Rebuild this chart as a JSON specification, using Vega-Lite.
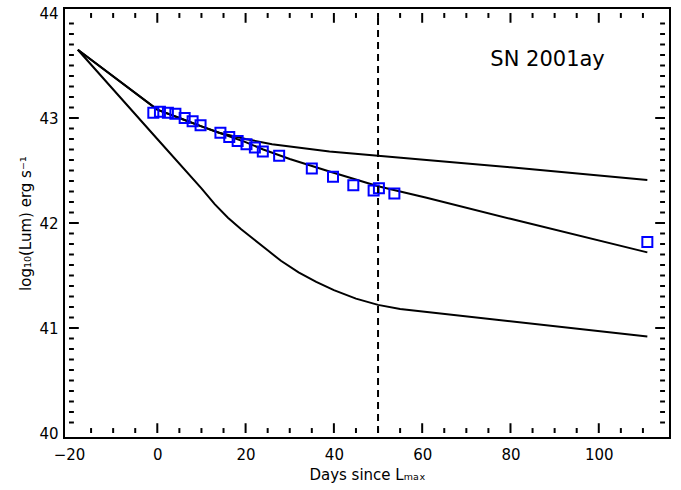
{
  "$schema": "https://vega.github.io/schema/vega-lite/v6.json",
  "width": 606,
  "height": 430,
  "autosize": "none",
  "padding": {"left": 64, "top": 8, "right": 11, "bottom": 52},
  "background": "white",
  "config": {
    "view": {"stroke": "black", "strokeWidth": 2},
    "font": "DejaVu Sans",
    "axis": {"domain": false, "grid": false, "ticks": false, "tickSize": 0, "labelColor": "black", "titleColor": "black", "labelFont": "DejaVu Sans", "titleFont": "DejaVu Sans", "labelFontSize": 15, "titleFontSize": 15, "titleFontWeight": "normal", "labelFlush": false}
  },
  "datasets": {
    "models": [
      {"series": "a", "day": -18, "lum": 43.65},
      {"series": "a", "day": 0, "lum": 43.08},
      {"series": "a", "day": 5, "lum": 43.0},
      {"series": "a", "day": 10, "lum": 42.92},
      {"series": "a", "day": 14, "lum": 42.86},
      {"series": "a", "day": 20, "lum": 42.80},
      {"series": "a", "day": 26, "lum": 42.75},
      {"series": "a", "day": 39, "lum": 42.68},
      {"series": "a", "day": 50, "lum": 42.64},
      {"series": "a", "day": 61, "lum": 42.60},
      {"series": "a", "day": 80, "lum": 42.53},
      {"series": "a", "day": 111, "lum": 42.41},
      {"series": "b", "day": -18, "lum": 43.65},
      {"series": "b", "day": 0, "lum": 43.08},
      {"series": "b", "day": 5, "lum": 43.0},
      {"series": "b", "day": 10, "lum": 42.92},
      {"series": "b", "day": 14, "lum": 42.86},
      {"series": "b", "day": 20, "lum": 42.77},
      {"series": "b", "day": 24, "lum": 42.70},
      {"series": "b", "day": 30, "lum": 42.61},
      {"series": "b", "day": 39, "lum": 42.49},
      {"series": "b", "day": 50, "lum": 42.35},
      {"series": "b", "day": 61, "lum": 42.24},
      {"series": "b", "day": 80, "lum": 42.04},
      {"series": "b", "day": 111, "lum": 41.72},
      {"series": "c", "day": -18, "lum": 43.65},
      {"series": "c", "day": 0, "lum": 42.80},
      {"series": "c", "day": 10, "lum": 42.33},
      {"series": "c", "day": 13, "lum": 42.18},
      {"series": "c", "day": 16, "lum": 42.05},
      {"series": "c", "day": 19, "lum": 41.94},
      {"series": "c", "day": 22, "lum": 41.84},
      {"series": "c", "day": 25, "lum": 41.74},
      {"series": "c", "day": 28, "lum": 41.64},
      {"series": "c", "day": 32, "lum": 41.53},
      {"series": "c", "day": 36, "lum": 41.44},
      {"series": "c", "day": 40, "lum": 41.36},
      {"series": "c", "day": 45, "lum": 41.28},
      {"series": "c", "day": 50, "lum": 41.22},
      {"series": "c", "day": 55, "lum": 41.18},
      {"series": "c", "day": 111, "lum": 40.92}
    ],
    "obs": [
      {"day": -0.9, "lum": 43.05},
      {"day": 0.6, "lum": 43.06},
      {"day": 2.4, "lum": 43.05},
      {"day": 4.1, "lum": 43.04},
      {"day": 6.2, "lum": 43.0},
      {"day": 8.0, "lum": 42.97},
      {"day": 9.8, "lum": 42.93},
      {"day": 14.3, "lum": 42.86},
      {"day": 16.3, "lum": 42.82},
      {"day": 18.2, "lum": 42.78},
      {"day": 20.2, "lum": 42.75},
      {"day": 22.1, "lum": 42.72},
      {"day": 23.9, "lum": 42.68},
      {"day": 27.6, "lum": 42.64},
      {"day": 35.0, "lum": 42.52},
      {"day": 39.8, "lum": 42.44},
      {"day": 44.4, "lum": 42.36},
      {"day": 49.0, "lum": 42.31},
      {"day": 50.2, "lum": 42.33},
      {"day": 53.7, "lum": 42.28},
      {"day": 111.0, "lum": 41.82}
    ],
    "marker": [{"day": 50}],
    "label": [{"day": 88.4, "lum": 43.55, "text": "SN 2001ay"}],
    "xmajor": [{"day": 0}, {"day": 20}, {"day": 40}, {"day": 60}, {"day": 80}, {"day": 100}],
    "xminor": [{"day": -15}, {"day": -10}, {"day": -5}, {"day": 5}, {"day": 10}, {"day": 15}, {"day": 25}, {"day": 30}, {"day": 35}, {"day": 45}, {"day": 50}, {"day": 55}, {"day": 65}, {"day": 70}, {"day": 75}, {"day": 85}, {"day": 90}, {"day": 95}, {"day": 105}, {"day": 110}],
    "ymajor": [{"lum": 41}, {"lum": 42}, {"lum": 43}],
    "yminor": [{"lum": 40.1}, {"lum": 40.2}, {"lum": 40.3}, {"lum": 40.4}, {"lum": 40.5}, {"lum": 40.6}, {"lum": 40.7}, {"lum": 40.8}, {"lum": 40.9}, {"lum": 41.1}, {"lum": 41.2}, {"lum": 41.3}, {"lum": 41.4}, {"lum": 41.5}, {"lum": 41.6}, {"lum": 41.7}, {"lum": 41.8}, {"lum": 41.9}, {"lum": 42.1}, {"lum": 42.2}, {"lum": 42.3}, {"lum": 42.4}, {"lum": 42.5}, {"lum": 42.6}, {"lum": 42.7}, {"lum": 42.8}, {"lum": 42.9}, {"lum": 43.1}, {"lum": 43.2}, {"lum": 43.3}, {"lum": 43.4}, {"lum": 43.5}, {"lum": 43.6}, {"lum": 43.7}, {"lum": 43.8}, {"lum": 43.9}]
  },
  "layer": [
    {
      "data": {"name": "models"},
      "mark": {"type": "line", "color": "black", "strokeWidth": 2},
      "encoding": {
        "x": {"field": "day", "type": "quantitative", "scale": {"domain": [-20, 115], "nice": false, "zero": false},
              "axis": {"orient": "bottom", "values": [-20, 0, 20, 40, 60, 80, 100], "format": "d", "labelPadding": 9, "title": "Days since Lₘₐₓ", "titlePadding": 5}},
        "y": {"field": "lum", "type": "quantitative", "scale": {"domain": [40, 44], "nice": false, "zero": false},
              "axis": {"orient": "left", "values": [40, 41, 42, 43, 44], "format": "d", "labelPadding": 6, "title": "log₁₀(Lum)    erg s⁻¹", "titlePadding": 5}},
        "detail": {"field": "series", "type": "nominal"}
      }
    },
    {
      "data": {"name": "obs"},
      "mark": {"type": "point", "shape": "square", "filled": false, "color": "#0000ff", "size": 100, "strokeWidth": 2, "opacity": 1},
      "encoding": {
        "x": {"field": "day", "type": "quantitative"},
        "y": {"field": "lum", "type": "quantitative"}
      }
    },
    {
      "data": {"name": "marker"},
      "mark": {"type": "rule", "color": "black", "strokeWidth": 2, "strokeDash": [7, 5]},
      "encoding": {
        "x": {"field": "day", "type": "quantitative"},
        "y": {"datum": 40},
        "y2": {"datum": 44}
      }
    },
    {
      "data": {"name": "label"},
      "mark": {"type": "text", "font": "DejaVu Sans", "fontSize": 21, "color": "black", "align": "center", "baseline": "middle"},
      "encoding": {
        "x": {"field": "day", "type": "quantitative"},
        "y": {"field": "lum", "type": "quantitative"},
        "text": {"field": "text", "type": "nominal"}
      }
    },
    {
      "data": {"name": "xmajor"},
      "mark": {"type": "bar", "color": "black", "width": 2, "opacity": 1},
      "encoding": {"x": {"field": "day", "type": "quantitative"}, "y": {"datum": 40}, "y2": {"datum": 40.093}}
    },
    {
      "data": {"name": "xmajor"},
      "mark": {"type": "bar", "color": "black", "width": 2, "opacity": 1},
      "encoding": {"x": {"field": "day", "type": "quantitative"}, "y": {"datum": 43.907}, "y2": {"datum": 44}}
    },
    {
      "data": {"name": "xminor"},
      "mark": {"type": "bar", "color": "black", "width": 2, "opacity": 1},
      "encoding": {"x": {"field": "day", "type": "quantitative"}, "y": {"datum": 40}, "y2": {"datum": 40.047}}
    },
    {
      "data": {"name": "xminor"},
      "mark": {"type": "bar", "color": "black", "width": 2, "opacity": 1},
      "encoding": {"x": {"field": "day", "type": "quantitative"}, "y": {"datum": 43.953}, "y2": {"datum": 44}}
    },
    {
      "data": {"name": "ymajor"},
      "mark": {"type": "bar", "color": "black", "height": 2, "orient": "horizontal", "opacity": 1},
      "encoding": {"y": {"field": "lum", "type": "quantitative"}, "x": {"datum": -20}, "x2": {"datum": -17.78}}
    },
    {
      "data": {"name": "ymajor"},
      "mark": {"type": "bar", "color": "black", "height": 2, "orient": "horizontal", "opacity": 1},
      "encoding": {"y": {"field": "lum", "type": "quantitative"}, "x": {"datum": 112.78}, "x2": {"datum": 115}}
    },
    {
      "data": {"name": "yminor"},
      "mark": {"type": "bar", "color": "black", "height": 2, "orient": "horizontal", "opacity": 1},
      "encoding": {"y": {"field": "lum", "type": "quantitative"}, "x": {"datum": -20}, "x2": {"datum": -18.89}}
    },
    {
      "data": {"name": "yminor"},
      "mark": {"type": "bar", "color": "black", "height": 2, "orient": "horizontal", "opacity": 1},
      "encoding": {"y": {"field": "lum", "type": "quantitative"}, "x": {"datum": 113.89}, "x2": {"datum": 115}}
    }
  ]
}
